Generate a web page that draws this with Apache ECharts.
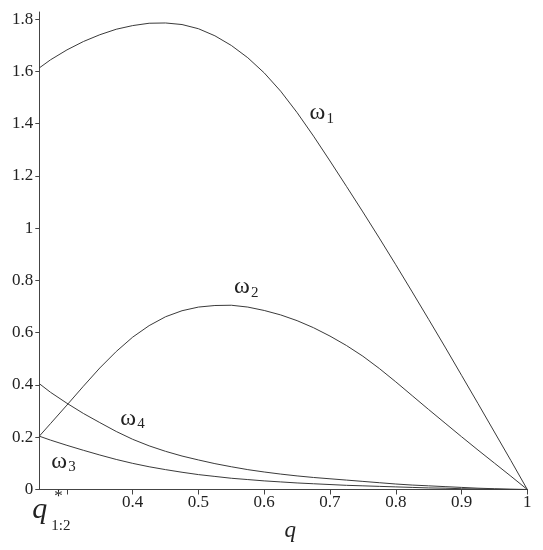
<!DOCTYPE html>
<html><head><meta charset="utf-8">
<script src="https://cdn.jsdelivr.net/npm/echarts@6/dist/echarts.min.js"></script>
<style>html,body{margin:0;padding:0;background:#fff}#c{width:543px;height:550px}</style>
</head><body><div id="c"></div>
<script>
// ---- data ----
const qStar = 0.258;
const qValues = [0.258, 0.275, 0.3, 0.325, 0.35, 0.375, 0.4, 0.425, 0.45, 0.475, 0.5, 0.525, 0.55, 0.575, 0.6, 0.625, 0.65, 0.675, 0.7, 0.725, 0.75, 0.775, 0.8, 0.825, 0.85, 0.875, 0.9, 0.925, 0.95, 0.975, 1.0];
const omega1 = [1.613, 1.644, 1.682, 1.714, 1.740, 1.761, 1.775, 1.784, 1.785, 1.779, 1.763, 1.736, 1.699, 1.652, 1.594, 1.524, 1.442, 1.352, 1.257, 1.160, 1.062, 0.962, 0.860, 0.756, 0.651, 0.545, 0.437, 0.329, 0.220, 0.111, 0];
const omega2 = [0.204, 0.252, 0.323, 0.395, 0.465, 0.528, 0.583, 0.627, 0.661, 0.684, 0.698, 0.704, 0.705, 0.698, 0.685, 0.668, 0.646, 0.619, 0.587, 0.551, 0.510, 0.463, 0.412, 0.359, 0.306, 0.254, 0.202, 0.151, 0.101, 0.051, 0];
const omega3 = [0.204, 0.189, 0.169, 0.150, 0.132, 0.115, 0.100, 0.087, 0.076, 0.066, 0.057, 0.050, 0.043, 0.038, 0.033, 0.029, 0.025, 0.022, 0.019, 0.016, 0.014, 0.012, 0.010, 0.008, 0.006, 0.005, 0.003, 0.002, 0.001, 0.0005, 0];
const omega4 = [0.405, 0.372, 0.330, 0.291, 0.256, 0.222, 0.192, 0.167, 0.146, 0.128, 0.113, 0.099, 0.087, 0.076, 0.067, 0.059, 0.052, 0.046, 0.041, 0.036, 0.031, 0.026, 0.021, 0.017, 0.014, 0.011, 0.008, 0.005, 0.003, 0.001, 0];
const xTickValues = [0.3, 0.4, 0.5, 0.6, 0.7, 0.8, 0.9, 1];
const xLabelValues = [0.4, 0.5, 0.6, 0.7, 0.8, 0.9, 1];
const yTickValues = [0, 0.2, 0.4, 0.6, 0.8, 1, 1.2, 1.4, 1.6, 1.8];
const seriesSub = ['1', '2', '3', '4'];
const xTitle = 'q';

// ---- chart ----
const FONT = '"Liberation Serif", "DejaVu Serif", serif';
const INK = '#222';
const LINE = '#3a3a3a';
const chart = echarts.init(document.getElementById('c'), null, {renderer: 'canvas'});
const pair = arr => qValues.map((x, i) => [x, arr[i]]);
const mk = (arr) => ({
  type: 'line', data: pair(arr), smooth: false, symbol: 'none',
  lineStyle: {color: LINE, width: 1}, z: 3, silent: true
});
chart.setOption({
  animation: false,
  backgroundColor: '#fff',
  grid: {left: 39.3, right: 15.7, top: 12, bottom: 60.5, containLabel: false, outerBoundsMode: 'none'},
  xAxis: {
    type: 'value', min: qStar, max: 1,
    axisLine: {show: true, onZero: false, lineStyle: {color: '#444', width: 1}},
    axisTick: {show: true, inside: false, length: 5, lineStyle: {color: '#444'}, customValues: xTickValues},
    axisLabel: {customValues: xLabelValues, margin: 5, color: INK, fontFamily: FONT, fontSize: 17,
      formatter: v => String(+v.toFixed(2))},
    splitLine: {show: false},
    name: xTitle, nameLocation: 'middle', nameGap: 30,
    nameTextStyle: {fontFamily: FONT, fontStyle: 'italic', fontSize: 23, color: INK, padding: [0, 0, 0, 14]}
  },
  yAxis: {
    type: 'value', min: 0, max: 1.827,
    axisLine: {show: true, onZero: false, lineStyle: {color: '#444', width: 1}},
    axisTick: {show: true, inside: false, length: 4, lineStyle: {color: '#444'}, customValues: yTickValues},
    axisLabel: {customValues: yTickValues, margin: 6, color: INK, fontFamily: FONT, fontSize: 17,
      formatter: v => String(+v.toFixed(2))},
    splitLine: {show: false}
  },
  series: [mk(omega1), mk(omega2), mk(omega3), mk(omega4)]
});

// annotations positioned in data space
const labelAnchors = [[0.669, 1.44], [0.554, 0.775], [0.276, 0.108], [0.381, 0.272]];
const g = [];
labelAnchors.forEach((a, i) => {
  const p = chart.convertToPixel({gridIndex: 0}, a);
  g.push({type: 'text', x: p[0], y: p[1], style: {text: 'ω', font: '24px ' + FONT, fill: INK, textAlign: 'left', textVerticalAlign: 'middle'}});
  g.push({type: 'text', x: p[0] + 17, y: p[1] + 6, style: {text: seriesSub[i], font: '15px ' + FONT, fill: INK, textAlign: 'left', textVerticalAlign: 'middle'}});
});
const ps = chart.convertToPixel({gridIndex: 0}, [qStar, 0]);
g.push({type: 'text', x: ps[0] - 7, y: ps[1] + 21, style: {text: 'q', font: 'italic 30px ' + FONT, fill: INK, textAlign: 'left', textVerticalAlign: 'middle'}});
g.push({type: 'text', x: ps[0] + 15, y: ps[1] + 7, style: {text: '*', font: '17px ' + FONT, fill: INK, textAlign: 'left', textVerticalAlign: 'middle'}});
g.push({type: 'text', x: ps[0] + 12, y: ps[1] + 37, style: {text: '1:2', font: '15px ' + FONT, fill: INK, textAlign: 'left', textVerticalAlign: 'middle'}});
chart.setOption({graphic: g});
</script></body></html>
